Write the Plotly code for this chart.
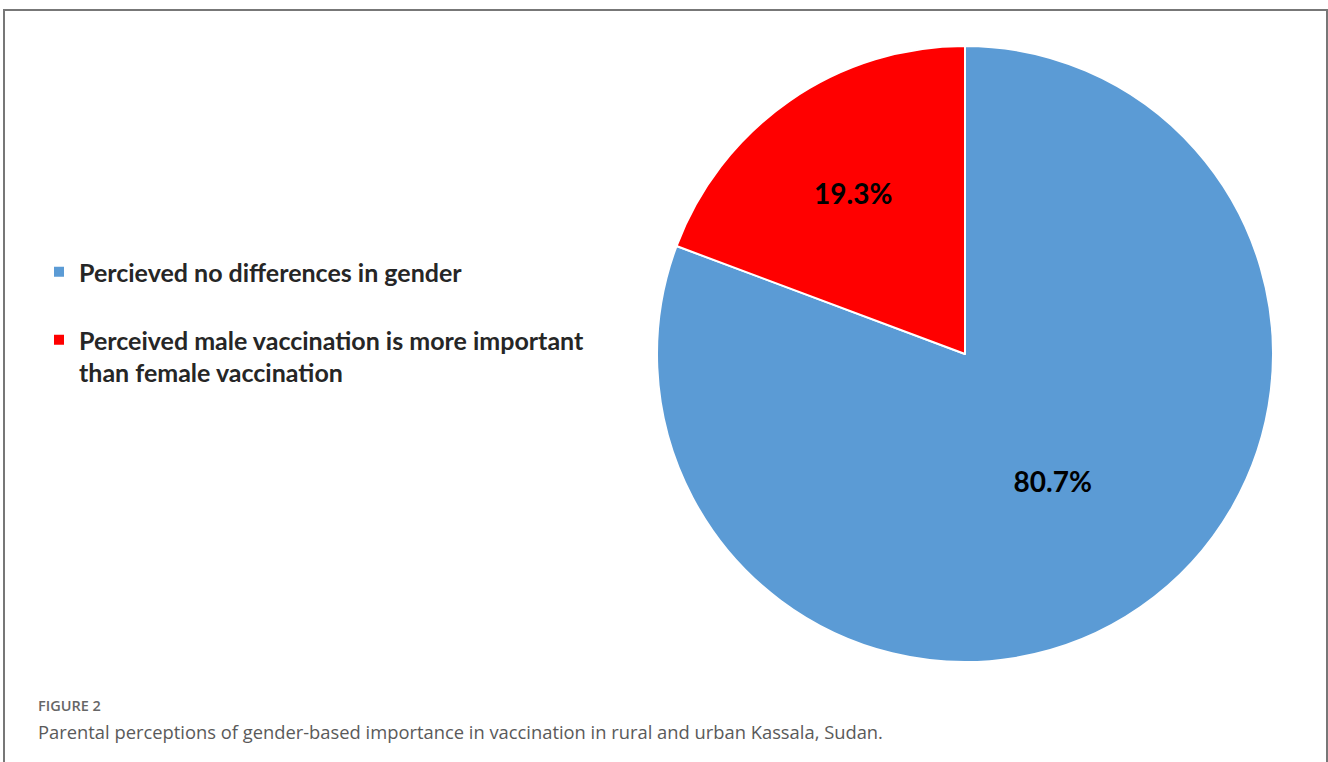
import plotly.graph_objects as go

labels = ["Percieved no differences in gender<br> ",
          "Perceived male vaccination is more important<br>than female vaccination"]
values = [80.7, 19.3]
text_labels = ["80.7%", "19.3%"]
colors = ["#5B9BD5", "#FF0000"]

W, H = 1328, 762
cx, cy, r = 965, 354, 308

fig = go.Figure(go.Pie(
    labels=labels, values=values, text=text_labels,
    textinfo="text", textposition="inside", insidetextorientation="horizontal",
    textfont=dict(family="Lato", size=28, color="black", weight="bold"),
    marker=dict(colors=colors, line=dict(color="white", width=2)),
    sort=False, direction="clockwise", rotation=0,
    domain=dict(x=[(cx - r) / W, (cx + r) / W], y=[(H - cy - r) / H, (H - cy + r) / H]),
    hoverinfo="label+percent",
))

fig.update_layout(
    width=W, height=H,
    margin=dict(l=0, r=0, t=0, b=0),
    paper_bgcolor="white", plot_bgcolor="white",
    showlegend=True,
    legend=dict(x=39 / W, y=1 - 249 / H, xanchor="left", yanchor="top",
                valign="top", bgcolor="rgba(0,0,0,0)",
                font=dict(family="Lato", size=25, color="#262626", weight="bold")),
    shapes=[dict(type="path", xref="paper", yref="paper",
                 path=f"M {4/W} -0.05 L {4/W} {1-10/H} L {1327/W} {1-10/H} L {1327/W} -0.05",
                 line=dict(color="#777777", width=2))],
    annotations=[
        dict(text="FIGURE 2", x=36 / W, y=1 - 705 / H, xref="paper", yref="paper",
             xanchor="left", yanchor="middle", showarrow=False,
             font=dict(family="Open Sans", size=14.5, color="#666666", weight=600)),
        dict(text="Parental perceptions of gender-based importance in vaccination in rural and urban Kassala, Sudan.",
             x=36 / W, y=1 - 731 / H, xref="paper", yref="paper",
             xanchor="left", yanchor="middle", showarrow=False,
             font=dict(family="Open Sans", size=18.35, color="#5a5a5a")),
    ],
)

fig.write_html("out.html")
